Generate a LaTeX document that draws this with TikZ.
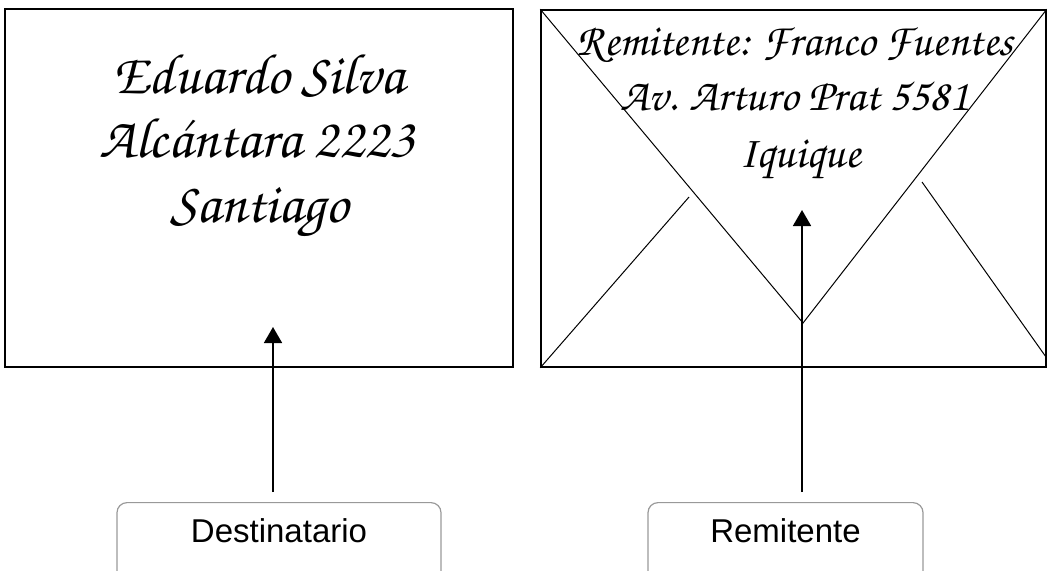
\documentclass[tikz,border=0pt]{standalone}
\usepackage[T1]{fontenc}
\usepackage{fontspec}
\setmainfont{Liberation Sans}
\usetikzlibrary{arrows.meta,positioning,calc}
\newcommand{\cursiva}{\fontencoding{T1}\fontfamily{pzc}\fontseries{mb}\fontshape{it}\selectfont}
\tikzstyle{sobre}=[draw,line width=.8pt,inner sep=0pt]
\tikzstyle{pliegue}=[line width=.5pt]
\tikzstyle{letra}=[font={\fontsize{28.5}{30}\cursiva},anchor=base,inner sep=0pt]
\tikzstyle{letrab}=[font={\fontsize{22.6}{26}\cursiva},anchor=base,inner sep=0pt]
\tikzstyle{etiqueta}=[draw=gray!80,line width=.6pt,rounded corners=5pt,inner sep=0pt,anchor=north,
  text height=20pt,text depth=30pt,font=\fontsize{16.5}{18}\selectfont]
\tikzstyle{flecha}=[-{Triangle[length=8pt,width=9pt]},line width=.9pt]

\begin{document}
\begin{tikzpicture}[x=0.5pt,y=-0.5pt]
    \useasboundingbox (0,0) rectangle (1047,570);
    \clip (0,0) rectangle (1047,570);

    % sobres
    \node[sobre,minimum width=254pt,minimum height=179pt] (sobreA) at (259,188) {};
    \node[sobre,minimum width=252.5pt,minimum height=178.5pt] (sobreB) at (793.5,188.5) {};
    \coordinate (vertice) at (803,323);
    \draw[pliegue] (sobreB.north west) -- (vertice) -- (sobreB.north east);
    \draw[pliegue] (sobreB.south west) -- (689,197);
    \draw[pliegue] (922,182) -- (1046,357);

    % direcciones
    \node[letra] (dest1) at (259,93) {Eduardo Silva};
    \node[letra] (dest2) at (257,157) {Alc\'antara 2223};
    \node[letra] (dest3) at (259,222) {Santiago};
    \node[letrab] (rem1) at (795,55) {Remitente: Franco Fuentes};
    \node[letrab] (rem2) at (795,110) {Av. Arturo Prat 5581};
    \node[letrab] (rem3) at (800,167) {Iquique};

    % etiquetas
    \node[etiqueta,minimum width=162pt] (dest) at (279,502) {Destinatario};
    \node[etiqueta,minimum width=137.5pt] (rem) at (785.5,502) {Remitente};
    \coordinate (puntaA) at (273,327);
    \coordinate (puntaB) at (802,210);

    \draw[flecha,shorten <=5pt] (puntaA |- dest.north) -- (puntaA) ;
    \draw[flecha,shorten <=5pt] (puntaB |- rem.north) -- (puntaB) ;
  \end{tikzpicture}
\end{document}
